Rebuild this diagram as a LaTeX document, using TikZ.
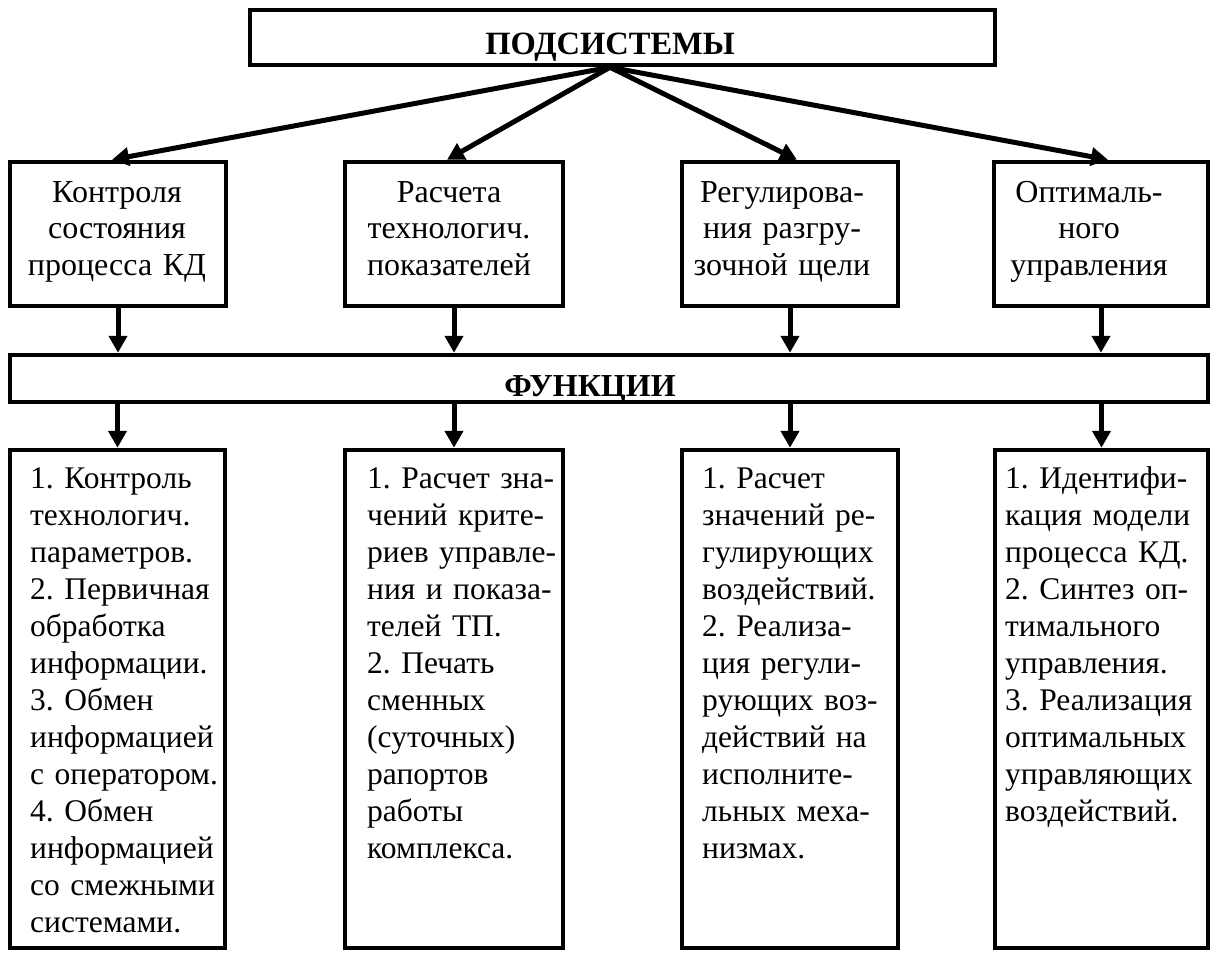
\documentclass[tikz,border=0pt]{standalone}
\usepackage{fontspec}
\setmainfont{Liberation Serif}
\usetikzlibrary{arrows.meta}
\frenchspacing
\tikzset{
  boxst/.style={draw, line width=4.5pt, rectangle, inner sep=0pt},
  arr/.style={line width=5pt, -{Triangle[length=17pt,width=18pt]}},
  ctxt/.style={inner sep=0pt, anchor=base, align=center, text width=240pt,
    font=\fontsize{32}{36.5}\selectfont\frenchspacing},
  ltxt/.style={inner sep=0pt, anchor=base west, align=left, text width=240pt,
    font=\fontsize{31.5}{37}\selectfont\frenchspacing},
  head/.style={inner sep=0pt, anchor=base, font=\fontsize{32.5}{38}\selectfont\bfseries}
}
\begin{document}
\begin{tikzpicture}[x=1pt,y=-1pt]
\useasboundingbox (0,0) rectangle (1211,953);
% top box
\node[boxst, minimum width=745pt, minimum height=55pt] (top) at (622.5,37.5) {};
\node[head] (toptxt) at (610,54) {ПОДСИСТЕМЫ};
% row of subsystems
\node[boxst, minimum width=216pt, minimum height=144pt] (b1) at (118,234) {};
\node[boxst, minimum width=218pt, minimum height=144pt] (b2) at (454,234) {};
\node[boxst, minimum width=216pt, minimum height=144pt] (b3) at (790,234) {};
\node[boxst, minimum width=214pt, minimum height=144pt] (b4) at (1101,234) {};
\node[ctxt] (t1) at (117,202) {Контроля\\состояния\\процесса КД};
\node[ctxt] (t2) at (449,202) {Расчета\\технологич.\\показателей};
\node[ctxt] (t3) at (782,202) {Регулирова-\\ния разгру-\\зочной щели};
\node[ctxt] (t4) at (1089,202) {Оптималь-\\ного\\управления};
% functions bar
\node[boxst, minimum width=1198pt, minimum height=47pt] (f) at (609,378.5) {};
\node[head, font=\fontsize{32}{36}\selectfont\bfseries] (ftxt) at (590,396) {ФУНКЦИИ};
% bottom boxes
\node[boxst, minimum width=215pt, minimum height=498pt] (c1) at (117.5,699) {};
\node[boxst, minimum width=218pt, minimum height=498pt] (c2) at (454,699) {};
\node[boxst, minimum width=216pt, minimum height=498pt] (c3) at (790,699) {};
\node[boxst, minimum width=213pt, minimum height=498pt] (c4) at (1101.5,699) {};
\node[ltxt] (d1) at (30,488) {1. Контроль\\технологич.\\параметров.\\2. Первичная\\обработка\\информации.\\3. Обмен\\информацией\\с оператором.\\4. Обмен\\информацией\\со смежными\\системами.};
\node[ltxt] (d2) at (367,488) {1. Расчет зна-\\чений крите-\\риев управле-\\ния и показа-\\телей ТП.\\2. Печать\\сменных\\(суточных)\\рапортов\\работы\\комплекса.};
\node[ltxt] (d3) at (702,488) {1. Расчет\\значений ре-\\гулирующих\\воздействий.\\2. Реализа-\\ция регули-\\рующих воз-\\действий на\\исполните-\\льных меха-\\низмах.};
\node[ltxt] (d4) at (1005,488) {1. Идентифи-\\кация модели\\процесса КД.\\2. Синтез оп-\\тимального\\управления.\\3. Реализация\\оптимальных\\управляющих\\воздействий.};
% arrows from top box
\draw[arr] ([xshift=-12.5pt]top.south) -- ([xshift=-6pt]b1.north);
\draw[arr] ([xshift=-12.5pt]top.south) -- ([xshift=-7pt]b2.north);
\draw[arr] ([xshift=-12.5pt]top.south) -- ([xshift=7pt]b3.north);
\draw[arr] ([xshift=-12.5pt]top.south) -- ([xshift=7pt]b4.north);
% arrows to functions bar
\draw[arr] (b1.south) -- (b1.south |- f.north);
\draw[arr] (b2.south) -- (b2.south |- f.north);
\draw[arr] (b3.south) -- (b3.south |- f.north);
\draw[arr] (b4.south) -- (b4.south |- f.north);
% arrows from functions bar
\draw[arr] (c1.north |- f.south) -- (c1.north);
\draw[arr] (c2.north |- f.south) -- (c2.north);
\draw[arr] (c3.north |- f.south) -- (c3.north);
\draw[arr] (c4.north |- f.south) -- (c4.north);
\end{tikzpicture}
\end{document}
